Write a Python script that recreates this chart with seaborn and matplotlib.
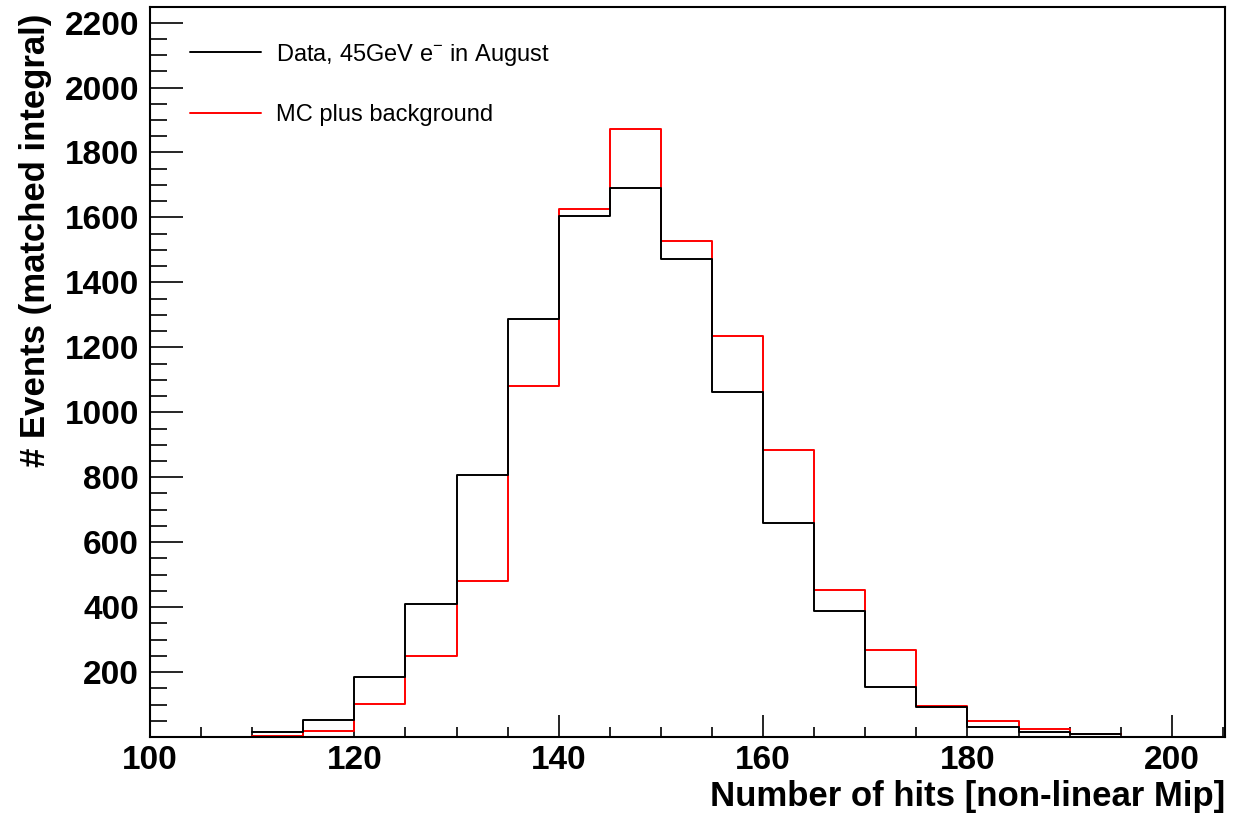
import numpy as np
import pandas as pd
import matplotlib
matplotlib.use("Agg")
import matplotlib.pyplot as plt
from matplotlib.ticker import MultipleLocator, FixedLocator
import seaborn as sns

# ---- data ----
bin_lefts = [110, 115, 120, 125, 130, 135, 140, 145, 150, 155, 160, 165, 170, 175, 180, 185, 190]
bin_width = 5
data_counts = [15, 52, 184, 411, 808, 1288, 1603, 1692, 1471, 1063, 658, 387, 154, 92, 31, 15, 10]
mc_counts = [4, 18, 101, 250, 480, 1080, 1626, 1871, 1527, 1235, 885, 452, 267, 97, 49, 25, 9]
x_ticks = [100, 120, 140, 160, 180, 200]
y_ticks = [200, 400, 600, 800, 1000, 1200, 1400, 1600, 1800, 2000, 2200]

sns.set_style("white")
plt.rcParams['font.family'] = ['Liberation Sans', 'DejaVu Sans']
plt.rcParams['mathtext.fontset'] = 'custom'
plt.rcParams['mathtext.rm'] = 'Liberation Sans'
plt.rcParams['text.color'] = 'black'
plt.rcParams['axes.labelcolor'] = 'black'
plt.rcParams['xtick.color'] = 'black'
plt.rcParams['ytick.color'] = 'black'

centers = [b + bin_width / 2 for b in bin_lefts]
edges = bin_lefts + [bin_lefts[-1] + bin_width]
df_data = pd.DataFrame({"x": centers, "w": data_counts})
df_mc = pd.DataFrame({"x": centers, "w": mc_counts})

fig = plt.figure(figsize=(12.35, 8.14), dpi=100)
ax = fig.add_axes([150 / 1235, 1 - 737 / 814, 1075 / 1235, 730 / 814])

sns.histplot(data=df_mc, x="x", weights="w", bins=edges, element="step", fill=False,
             color="#ff0000", linewidth=1.4, ax=ax, label="MC plus background", zorder=2)
sns.histplot(data=df_data, x="x", weights="w", bins=edges, element="step", fill=False,
             color="black", linewidth=1.4, ax=ax, label=r"Data, 45GeV e$^{\mathregular{-}}$ in August", zorder=3)

ax.set_xlim(100, 205.2)
ax.set_ylim(0, 2248)

ax.xaxis.set_major_locator(FixedLocator(x_ticks))
ax.xaxis.set_minor_locator(MultipleLocator(5))
ax.yaxis.set_major_locator(FixedLocator(y_ticks))
ax.yaxis.set_minor_locator(MultipleLocator(50))

ax.tick_params(axis='both', which='both', bottom=True, left=True, top=False, right=False)
ax.tick_params(axis='x', which='major', direction='in', length=16, width=1.2, labelsize=24, pad=6)
ax.tick_params(axis='x', which='minor', direction='in', length=7.5, width=1.2)
ax.tick_params(axis='y', which='major', direction='in', length=24, width=1.2, labelsize=24, pad=8)
ax.tick_params(axis='y', which='minor', direction='in', length=12, width=1.2)
for lab in ax.get_xticklabels() + ax.get_yticklabels():
    lab.set_fontweight('bold')

for s in ax.spines.values():
    s.set_linewidth(1.5)
    s.set_color('black')

ax.set_xlabel("Number of hits [non-linear Mip]", fontsize=25, fontweight='bold', loc='right')
ax.xaxis.set_label_coords(1.0, -0.059)
ax.set_ylabel("# Events (matched integral)", fontsize=25, fontweight='bold', loc='top')
ax.yaxis.set_label_coords(-0.091, 0.991)

h, l = ax.get_legend_handles_labels()
order = [1, 0]
ax.legend([h[i] for i in order], [l[i] for i in order], loc='upper left',
          bbox_to_anchor=(0.0175, 0.9815), frameon=False, fontsize=17,
          handlelength=3.0, handletextpad=0.62, labelspacing=1.55)

fig.savefig("out.png", dpi=100)
